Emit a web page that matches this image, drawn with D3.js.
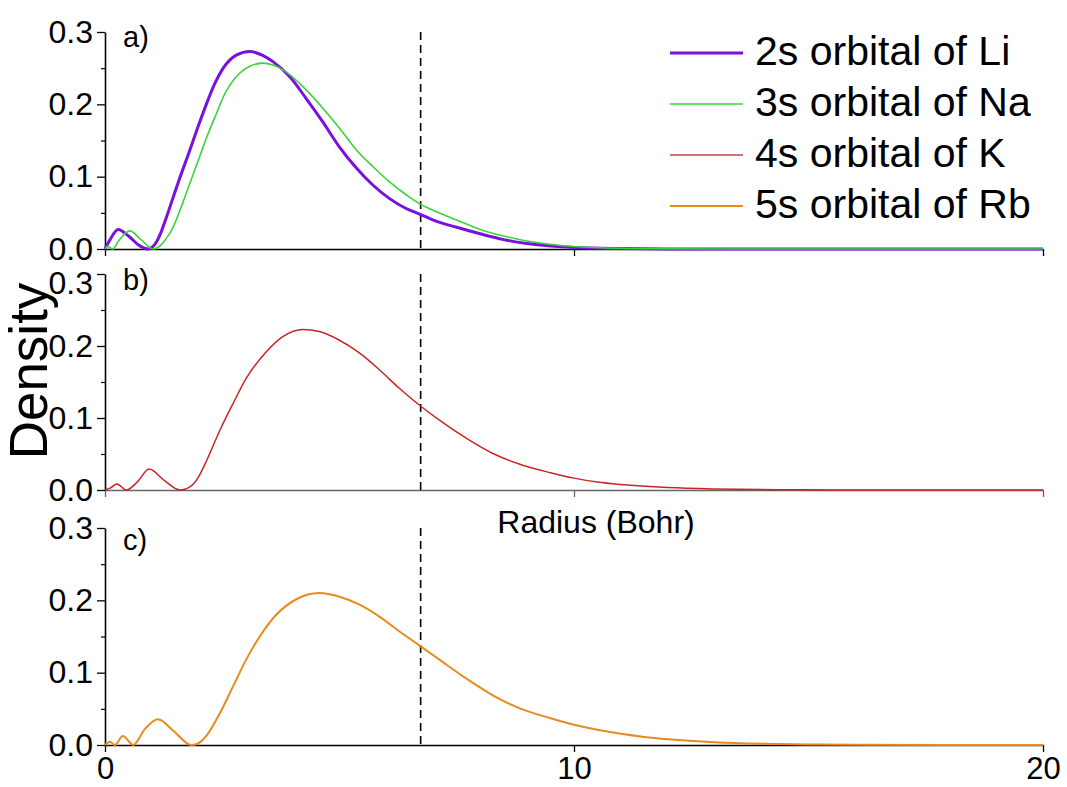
<!DOCTYPE html>
<html>
<head>
<meta charset="utf-8">
<script src="https://cdn.jsdelivr.net/npm/d3@7"></script>
<style>
  html, body { margin: 0; padding: 0; background: #fff; }
  svg { display: block; }
  text { font-family: "Liberation Sans", Arial, sans-serif; fill: #000; }
</style>
</head>
<body>
<svg id="chart" width="1067" height="787"></svg>
<script>
// ---------------- data ----------------
const xTicks = [0, 10, 20];
const yTicks = [0.0, 0.1, 0.2, 0.3];
const yMinorTicks = [0.05, 0.15, 0.25];
const xLabel = "Radius (Bohr)";
const yLabel = "Density";
const panelLabels = ["a)", "b)", "c)"];
const cutoffRadius = 6.73;

const seriesNames = ["2s orbital of Li", "3s orbital of Na", "4s orbital of K", "5s orbital of Rb"];
const seriesColors = ["#7a10e0", "#3ad43a", "#cc2424", "#e88a20"];
const legendColors = ["#7a10e0", "#3ad43a", "#c04848", "#e88a20"];
const seriesWidths = [3, 1.6, 1.5, 2];
const seriesPanel = [0, 0, 1, 2];

const liR = [0, 0.1, 0.28, 0.5, 0.75, 0.92, 1.0, 1.1, 1.2, 1.31, 1.55, 1.81, 2.0, 2.16, 2.35, 2.52, 2.8, 3.09, 3.35, 3.58, 3.94, 4.29, 4.64, 5.0, 5.36, 5.71, 6.06, 6.42, 6.72, 7.0, 7.5, 8.0, 8.5, 9.0, 9.5, 10.0, 11, 12, 14, 20];
const liD = [0, 0.012, 0.027, 0.018, 0.004, 0, 0.002, 0.01, 0.024, 0.044, 0.09, 0.137, 0.172, 0.200, 0.230, 0.250, 0.268, 0.273, 0.268, 0.259, 0.238, 0.208, 0.176, 0.141, 0.112, 0.0885, 0.070, 0.056, 0.048, 0.040, 0.030, 0.021, 0.013, 0.0075, 0.004, 0.002, 0.0006, 0.0001, 0, 0];

const naR = [0, 0.06, 0.16, 0.3, 0.53, 0.75, 1.03, 1.12, 1.2, 1.3, 1.45, 1.6, 1.81, 2.02, 2.16, 2.38, 2.52, 2.87, 3.1, 3.37, 3.79, 4.29, 4.64, 5.0, 5.36, 5.71, 6.06, 6.42, 6.72, 6.91, 7.5, 8.0, 8.5, 9.0, 9.5, 10, 11, 12, 14, 20];
const naD = [0, 0.004, 0, 0.012, 0.025, 0.014, 0, 0.002, 0.006, 0.014, 0.03, 0.054, 0.091, 0.128, 0.153, 0.188, 0.210, 0.243, 0.253, 0.257, 0.248, 0.220, 0.195, 0.167, 0.137, 0.114, 0.093, 0.075, 0.062, 0.056, 0.040, 0.027, 0.018, 0.011, 0.0065, 0.0035, 0.001, 0.0003, 0, 0];

const kR = [0, 0.12, 0.25, 0.46, 0.7, 0.94, 1.25, 1.6, 1.7, 1.8, 1.88, 2.0, 2.16, 2.45, 2.73, 3.01, 3.44, 3.79, 4.22, 4.57, 5.0, 5.43, 5.85, 6.28, 6.74, 7.13, 7.70, 8.26, 8.83, 9.5, 10, 10.5, 11, 12, 13, 14, 15, 16, 20];
const kD = [0, 0.003, 0.0083, 0, 0.012, 0.029, 0.014, 0, 0.001, 0.004, 0.008, 0.019, 0.040, 0.083, 0.120, 0.155, 0.192, 0.213, 0.223, 0.220, 0.208, 0.190, 0.167, 0.141, 0.116, 0.097, 0.072, 0.051, 0.036, 0.024, 0.0165, 0.011, 0.0075, 0.0033, 0.0014, 0.0006, 0.0002, 0, 0];

const rbR = [0, 0.106, 0.21, 0.38, 0.6, 0.85, 1.13, 1.45, 1.84, 1.95, 2.05, 2.16, 2.45, 2.73, 3.01, 3.30, 3.65, 4.08, 4.57, 5.0, 5.43, 5.85, 6.28, 6.74, 7.13, 7.70, 8.26, 8.83, 9.5, 10, 10.5, 11, 11.5, 12, 13, 14, 15, 16, 20];
const rbD = [0, 0.0046, 0, 0.0125, 0, 0.022, 0.0355, 0.020, 0, 0.001, 0.005, 0.0125, 0.044, 0.081, 0.118, 0.150, 0.180, 0.2015, 0.210, 0.205, 0.194, 0.1775, 0.157, 0.136, 0.118, 0.092, 0.069, 0.051, 0.037, 0.028, 0.021, 0.0155, 0.0112, 0.008, 0.0038, 0.0017, 0.0007, 0.0002, 0];

const seriesR = [liR, naR, kR, rbR];
const seriesD = [liD, naD, kD, rbD];

// ---------------- layout ----------------
const svg = d3.select("#chart");
const x = d3.scaleLinear().domain([0, 20]).range([105, 1043]);
const panels = [
  { top: 32, bottom: 249, axisColor: "#000" },
  { top: 274, bottom: 490, axisColor: "#666" },
  { top: 528, bottom: 745, axisColor: "#000" }
];
panels.forEach(p => { p.y = d3.scaleLinear().domain([0, 0.3]).range([p.bottom, p.top]); });

const fmt = d3.format(".1f");

panels.forEach((p, i) => {
  const g = svg.append("g");

  // x axis
  const xa = g.append("g")
    .attr("transform", `translate(0,${p.bottom})`)
    .call(d3.axisBottom(x).tickValues(xTicks).tickSize(7).tickSizeOuter(0)
      .tickPadding(5).tickFormat(i === 2 ? d3.format("d") : () => ""));
  xa.select(".domain").attr("stroke", p.axisColor).attr("stroke-width", 1.6);
  xa.selectAll(".tick line").attr("stroke", p.axisColor).attr("stroke-width", 1.3);
  xa.selectAll("text").attr("font-size", 31).attr("fill", "#000")
    .attr("font-family", "'Liberation Sans', Arial, sans-serif");

  // y axis major
  const ya = g.append("g")
    .attr("transform", `translate(${x(0)},0)`)
    .call(d3.axisLeft(p.y).tickValues(yTicks).tickSize(8).tickSizeOuter(0)
      .tickPadding(4).tickFormat(fmt));
  ya.select(".domain").attr("stroke", "#000").attr("stroke-width", 1.6);
  ya.selectAll(".tick line").attr("stroke", "#000").attr("stroke-width", 1.3);
  ya.selectAll("text").attr("font-size", 32).attr("fill", "#000")
    .attr("font-family", "'Liberation Sans', Arial, sans-serif");
  if (i === 1) {
    ya.selectAll(".tick").filter(d => d === 0.3).select("text").attr("dy", "0.6em");
  }

  // y axis minor
  const ym = g.append("g")
    .attr("transform", `translate(${x(0)},0)`)
    .call(d3.axisLeft(p.y).tickValues(yMinorTicks).tickSize(4).tickSizeOuter(0).tickFormat(() => ""));
  ym.select(".domain").remove();
  ym.selectAll(".tick line").attr("stroke", "#000").attr("stroke-width", 1.2);

  // dashed cutoff line
  g.append("line")
    .attr("x1", x(cutoffRadius)).attr("x2", x(cutoffRadius))
    .attr("y1", p.y(0.3)).attr("y2", p.y(0))
    .attr("stroke", "#000").attr("stroke-width", 1.6)
    .attr("stroke-dasharray", "8,5");

  // panel label
  g.append("text")
    .attr("x", x(0) + 18).attr("y", p.top + [15, 16, 22][i])
    .attr("font-size", 29)
    .text(panelLabels[i]);
});

// curves
const lineGen = (yScale) => d3.line()
  .x(d => x(d[0])).y(d => yScale(d[1]))
  .curve(d3.curveMonotoneX);

seriesNames.forEach((name, k) => {
  const p = panels[seriesPanel[k]];
  const pts = seriesR[k].map((r, j) => [r, seriesD[k][j]]);
  svg.append("path")
    .datum(pts)
    .attr("fill", "none")
    .attr("stroke", seriesColors[k])
    .attr("stroke-width", seriesWidths[k])
    .attr("stroke-linejoin", "round")
    .attr("d", lineGen(p.y));
});

// legend
const legend = svg.append("g");
seriesNames.forEach((name, k) => {
  const yy = 53 + k * 51;
  legend.append("line")
    .attr("x1", 670).attr("x2", 743).attr("y1", yy).attr("y2", yy)
    .attr("stroke", legendColors[k]).attr("stroke-width", seriesWidths[k]);
  legend.append("text")
    .attr("x", 755).attr("y", yy + 12)
    .attr("font-size", 41)
    .text(name);
});

// axis titles
svg.append("text")
  .attr("x", 596).attr("y", 533)
  .attr("text-anchor", "middle")
  .attr("font-size", 32)
  .text(xLabel);

svg.append("text")
  .attr("transform", "translate(47,371) rotate(-90)")
  .attr("text-anchor", "middle")
  .attr("font-size", 53)
  .text(yLabel);
</script>
</body>
</html>
